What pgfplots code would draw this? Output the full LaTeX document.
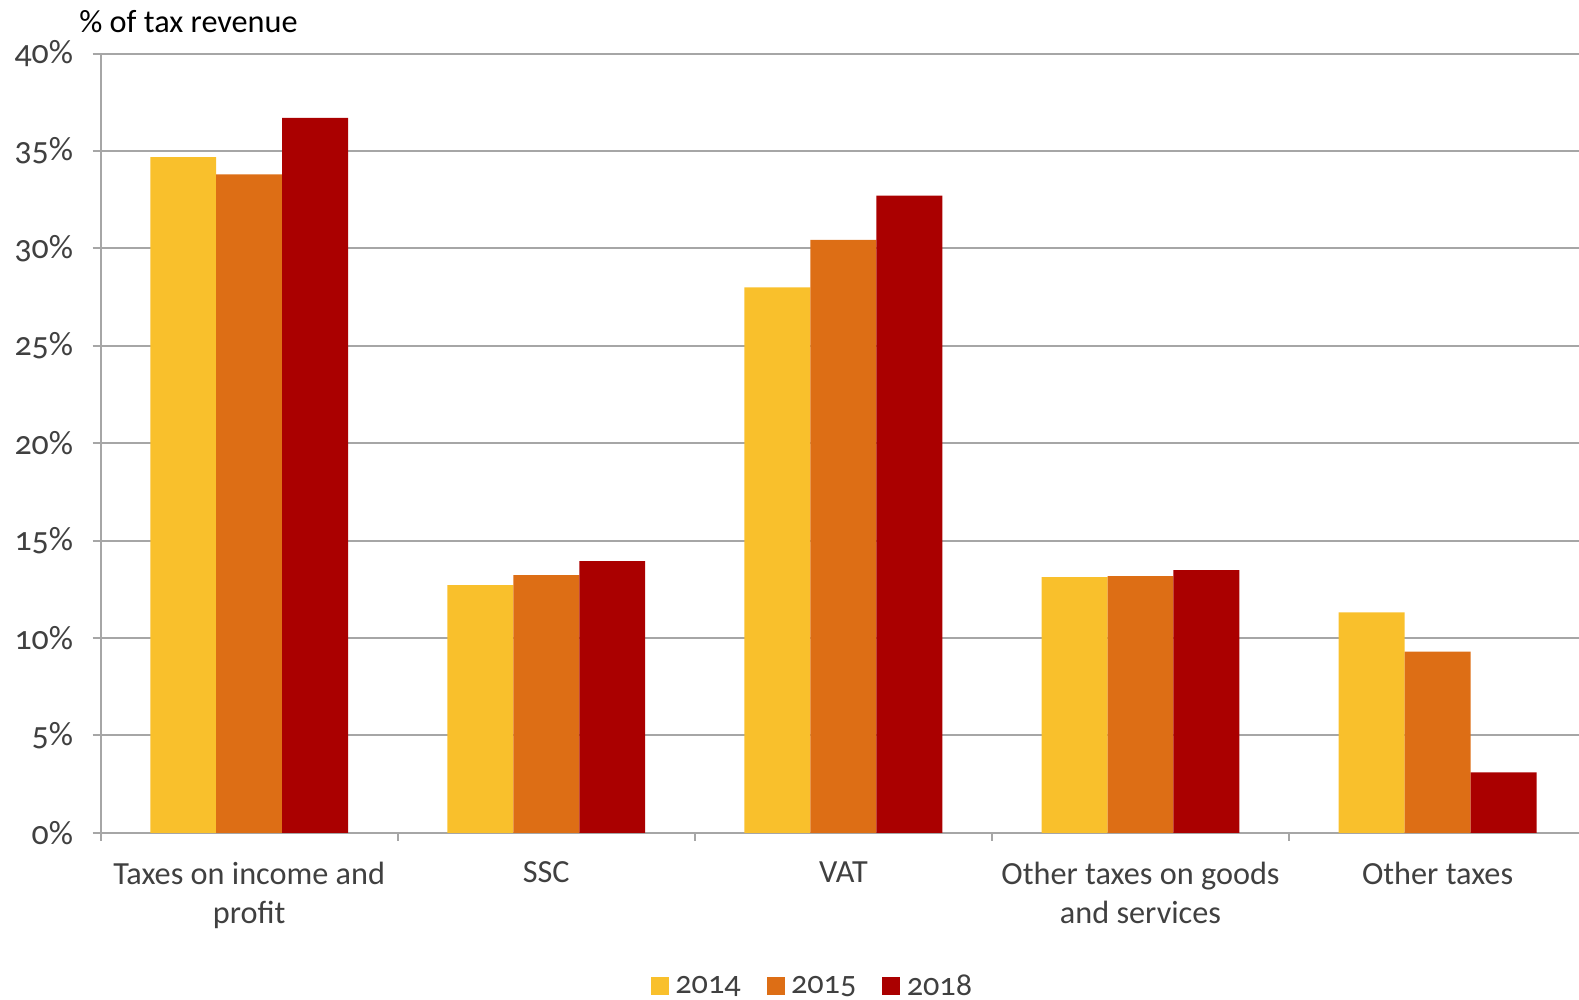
\documentclass[border=0pt]{standalone}
\usepackage{pgfplots}
\pgfplotsset{compat=1.18}
\usepackage{fontspec}
\setmainfont{Carlito}[Numbers=OldStyle]

\definecolor{cA}{HTML}{F9C02C}
\definecolor{cB}{HTML}{DD6E15}
\definecolor{cC}{HTML}{AA0000}
\definecolor{txt}{HTML}{404040}
\definecolor{gridc}{HTML}{A6A6A6}

\begin{document}
\begin{tikzpicture}
\path[use as bounding box] (-31.2pt,-51.5pt) rectangle (458.3pt,258.2pt);
\begin{axis}[
    name=ax,
    at={(0,0)}, anchor=south west,
    width=458.3pt, height=241.6pt, scale only axis,
    ybar, bar width=0.222,
    xmin=-0.5, xmax=4.476, ymin=0, ymax=40,
    axis x line*=bottom, axis y line*=left,
    axis line style={gridc, line width=0.6pt},
    xtick={0,1,2,3,4},
    xticklabels={{Taxes on income and\\profit},SSC,VAT,{Other taxes on goods\\and services},Other taxes},
    xticklabel style={align=center, text=txt, font=\fontsize{10}{12.2}\selectfont, yshift=-3pt},
    major x tick style={draw=none},
    extra x ticks={-0.5,0.5,1.5,2.5,3.5},
    extra x tick labels={},
    extra x tick style={major tick length=2.5pt, tick align=outside, grid=none,
        major x tick style={draw=gridc, line width=0.6pt}},
    ytick={0,5,...,40},
    yticklabel={\pgfmathprintnumber{\tick}\%},
    yticklabel style={text=txt, font=\fontsize{10.5}{12}\selectfont, xshift=-2.5pt},
    /pgf/number format/assume math mode=true,
    tick align=outside, major tick length=2.5pt,
    y tick style={gridc, line width=0.6pt},
    ymajorgrids, grid style={gridc, line width=0.6pt},
    legend style={at={(0.483,-0.198)}, anchor=center, draw=none, fill=none,
        legend columns=3, font=\fontsize{10}{12}\selectfont, text=txt,
        /tikz/every even column/.append style={column sep=6pt}},
    legend image code/.code={\fill[#1] (0pt,-2.4pt) rectangle (5.6pt,3.2pt);},
]
\addplot[fill=cA, draw=none, bar shift=-0.222] coordinates {(0,34.68) (1,12.71) (2,28.0) (3,13.13) (4,11.32)};
\addplot[fill=cB, draw=none, bar shift=0] coordinates {(0,33.8) (1,13.23) (2,30.44) (3,13.18) (4,9.30)};
\addplot[fill=cC, draw=none, bar shift=0.222] coordinates {(0,36.7) (1,13.95) (2,32.71) (3,13.49) (4,3.10)};
\legend{2014,2015,2018}
\end{axis}
\node[anchor=base west, text=black, font=\fontsize{10}{12}\selectfont, inner sep=0pt]
    at ([xshift=-6.8pt, yshift=6.5pt]ax.north west) {\% of tax revenue};
\end{tikzpicture}
\end{document}
